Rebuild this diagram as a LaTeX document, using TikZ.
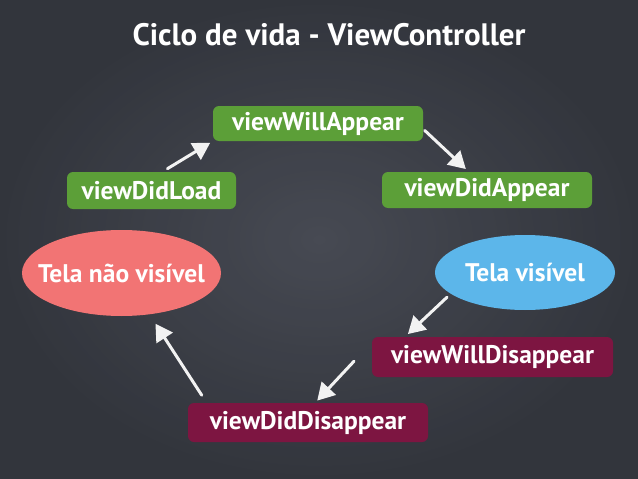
\documentclass[tikz,border=0pt]{standalone}
\usepackage{fontspec}
\setmainfont{PT Sans}
\usetikzlibrary{arrows.meta,shapes.geometric}
\definecolor{board}{HTML}{3C3F48}
\definecolor{boardlight}{HTML}{4A4D56}
\definecolor{boarddark}{HTML}{30333A}
\definecolor{leafgreen}{HTML}{5C9F38}
\definecolor{wine}{HTML}{7D1541}
\definecolor{salmon}{HTML}{F27474}
\definecolor{skyblue}{HTML}{5CB6EA}
\definecolor{chalkwhite}{HTML}{F2F2F2}
\begin{document}
\begin{tikzpicture}[x=1pt,y=-1pt,font=\bfseries\fontsize{25.5}{30}\selectfont,
  box/.style={rounded corners=6pt,inner sep=0pt,text=white},
  tela/.style={ellipse,inner sep=0pt,text=white},
  chalk/.style={draw=chalkwhite,line width=3pt,line cap=round,-{Triangle[length=17pt,width=19pt]}}]
\fill[board] (0,0) rectangle (638,479);
\shade[inner color=boardlight,outer color=boarddark,opacity=.8] (0,0) rectangle (638,479);

\node[text=white,font=\bfseries\fontsize{31}{36}\selectfont] (title) at (329,35) {Ciclo de vida - ViewController};

\node[box,fill=leafgreen,minimum width=210,minimum height=35] (willappear) at (318,123.5) {viewWillAppear};
\node[box,fill=leafgreen,minimum width=169,minimum height=37] (load) at (151.5,190.5) {viewDidLoad};
\node[box,fill=leafgreen,minimum width=210,minimum height=36] (appear) at (487,190) {viewDidAppear};
\node[tela,fill=salmon,minimum width=199,minimum height=86] (naovis) at (121.5,273) {\makebox[0pt]{Tela não visível}};
\node[tela,fill=skyblue,minimum width=180,minimum height=75] (vis) at (525,272.5) {\makebox[0pt]{Tela visível}};
\node[box,fill=wine,minimum width=241,minimum height=40] (willdis) at (492.5,357) {viewWillDisappear};
\node[box,fill=wine,minimum width=240,minimum height=39] (diddis) at (308,422.5) {viewDidDisappear};

\draw[chalk,shorten <=6pt,shorten >=3pt] (load.60) -- (willappear.south west);
\draw[chalk,shorten <=2pt,shorten >=4pt] (willappear.-3) -- (appear.135);
\draw[chalk,shorten <=5pt,shorten >=4pt] (vis.196) -- (willdis.167);
\draw[chalk,shorten <=26pt,shorten >=3pt] (willdis.173) -- (diddis.70);
\draw[chalk,shorten <=9pt,shorten >=11pt] (diddis.169) -- (naovis.-56);
\end{tikzpicture}
\end{document}
